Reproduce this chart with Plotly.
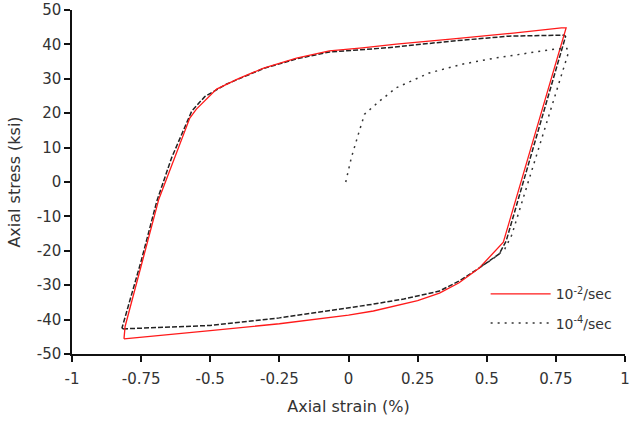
import plotly.graph_objects as go

# 10^-2/sec loop (red)
red_x = [-0.812, -0.808, -0.745, -0.686, -0.655, -0.574, -0.55, -0.477, -0.40, -0.307, -0.188,
         -0.069, 0.05, 0.173, 0.379, 0.50, 0.596, 0.77, 0.787, 0.56,
         0.498, 0.473, 0.40, 0.329, 0.25, 0.09, 0.0, -0.25, -0.5, -0.812]
red_y = [-45.6, -42.0, -22.9, -5.0, 1.5, 18.6, 21.2, 27.0, 30.0, 33.1, 36.0,
         38.1, 39.0, 40.1, 41.6, 42.5, 43.3, 44.8, 44.8, -17.5,
         -23.0, -25.0, -29.3, -32.3, -34.5, -37.5, -38.7, -41.2, -43.2, -45.6]

# 10^-4/sec stabilised loop (black dashed)
blk_x = [-0.815, -0.819, -0.75, -0.693, -0.64, -0.567, -0.52, -0.44, -0.307, -0.188, -0.069,
         0.137, 0.379, 0.58, 0.78, 0.785, 0.57, 0.545, 0.473, 0.40,
         0.329, 0.20, 0.09, -0.152, -0.25, -0.5, -0.815]
blk_y = [-42.7, -42.4, -23.0, -5.5, 7.0, 20.6, 24.8, 28.5, 33.0, 35.8, 37.8,
         39.0, 41.0, 42.4, 42.7, 42.3, -17.2, -20.9, -25.0, -28.8,
         -31.7, -34.0, -35.5, -38.4, -39.5, -41.7, -42.7]

# 10^-4/sec first half cycle (black dotted)
dot_x = [-0.01, 0.01, 0.036, 0.058, 0.112, 0.173, 0.292, 0.415, 0.534, 0.653, 0.744, 0.79,
         0.795, 0.59, 0.565, 0.52, 0.48]
dot_y = [0.0, 7.0, 14.0, 19.7, 23.5, 27.4, 31.7, 34.3, 36.1, 37.6, 38.6, 38.8,
         37.5, -15.5, -19.5, -22.5, -24.5]

x_ticks = [-1, -0.75, -0.5, -0.25, 0, 0.25, 0.5, 0.75, 1]
x_labels = ["-1", "-0.75", "-0.5", "-0.25", "0", "0.25", "0.5", "0.75", "1"]
y_ticks = [-50, -40, -30, -20, -10, 0, 10, 20, 30, 40, 50]
y_labels = ["-50", "-40", "-30", "-20", "-10", "0", "10", "20", "30", "40", "50"]

FONT = "DejaVu Sans, Liberation Sans, Arial, sans-serif"
TXT = "#333333"

fig = go.Figure()
fig.add_trace(go.Scatter(x=blk_x, y=blk_y, mode="lines", showlegend=False,
                         line=dict(color="#222222", width=1.5, dash="5px,2px"),
                         legendgroup="b"))
fig.add_trace(go.Scatter(x=red_x, y=red_y, mode="lines", name="10<sup>-2</sup>/sec",
                         line=dict(color="#ff1a1a", width=1.3), legendgroup="a"))
fig.add_trace(go.Scatter(x=dot_x, y=dot_y, mode="lines", name="10<sup>-4</sup>/sec",
                         line=dict(color="#333333", width=1.5, dash="2px,5px"),
                         legendgroup="b"))

fig.update_layout(
    width=638, height=423,
    margin=dict(l=72, r=13, t=10, b=69),
    paper_bgcolor="white", plot_bgcolor="white",
    font=dict(family=FONT, size=15, color=TXT),
    legend=dict(x=0.748, y=0.22, xanchor="left", yanchor="top",
                bgcolor="rgba(0,0,0,0)", traceorder="grouped", tracegroupgap=8,
                font=dict(size=14, color=TXT), itemwidth=60),
    xaxis=dict(range=[-1, 1], tickvals=x_ticks, ticktext=x_labels, automargin=False,
               showgrid=False, zeroline=False, showline=True, linecolor="#111111",
               linewidth=1.5, ticks="outside", ticklen=6, tickwidth=1.5, tickcolor="#111111",
               tickfont=dict(size=15, color=TXT), ticklabelstandoff=4,
               title=dict(text="Axial strain (%)", font=dict(size=16, color=TXT),
                          standoff=14)),
    yaxis=dict(range=[-50, 50], tickvals=y_ticks, ticktext=y_labels, automargin=False,
               showgrid=False, zeroline=False, showline=True, linecolor="#111111",
               linewidth=1.5, ticks="outside", ticklen=6, tickwidth=1.5, tickcolor="#111111",
               tickfont=dict(size=15, color=TXT),
               title=dict(text="Axial stress (ksi)", font=dict(size=16, color=TXT),
                          standoff=12)),
)

fig.write_html("out.html")
